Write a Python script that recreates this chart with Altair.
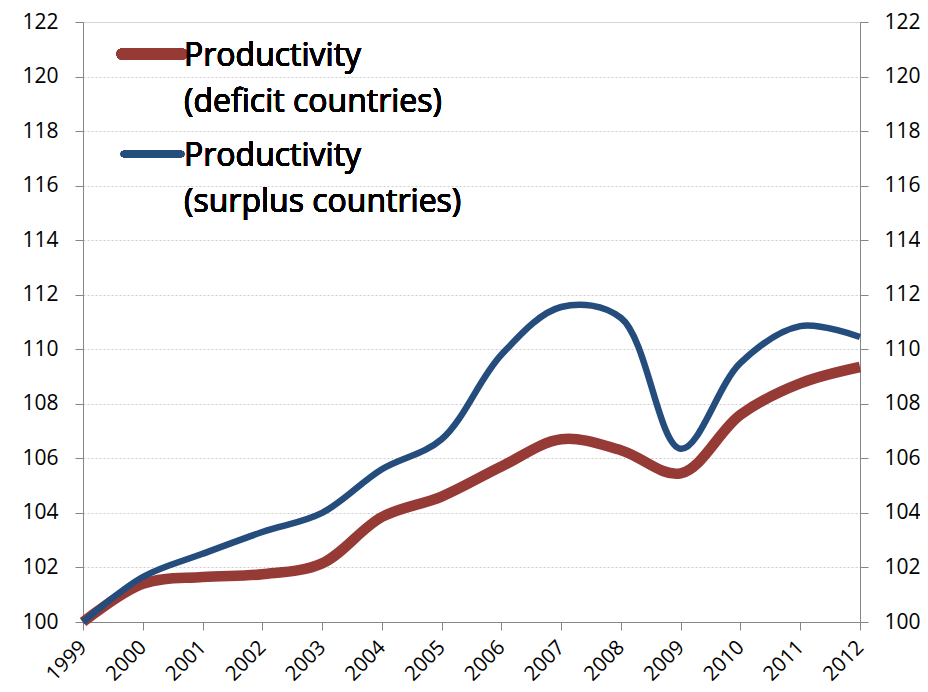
import altair as alt
import pandas as pd

years = list(range(1999, 2013))
deficit = [100.0, 101.4, 101.65, 101.75, 102.15, 103.85, 104.6, 105.7, 106.7, 106.3, 105.45, 107.6, 108.75, 109.35]
surplus = [100.0, 101.65, 102.5, 103.3, 104.0, 105.6, 106.7, 109.8, 111.55, 111.15, 106.35, 109.5, 110.85, 110.45]
series_names = ["Productivity (deficit countries)", "Productivity (surplus countries)"]
legend_lines = [["Productivity", "(deficit countries)"], ["Productivity", "(surplus countries)"]]
colors = ["#963A36", "#244C7C"]
y_ticks = list(range(100, 123, 2))

FONT = "Open Sans"
AX = "#868686"
FS = 21

df_def = pd.DataFrame({"year": years, "value": deficit, "series": series_names[0]})
df_sur = pd.DataFrame({"year": years, "value": surplus, "series": series_names[1]})

xenc = alt.X("year:Q", scale=alt.Scale(domain=[1999, 2012], nice=False, zero=False),
             axis=alt.Axis(values=years, format="d", labelAngle=-45, labelAlign="right",
                           labelBaseline="middle", labelPadding=14, tickSize=8,
                           domainColor=AX, tickColor=AX, grid=False, title=None,
                           labelFont=FONT, labelFontSize=20.5, labelColor="#000000",
                           labelOverlap=False, labelFlush=False))
yscale = alt.Scale(domain=[100, 122], nice=False, zero=False)

red = alt.Chart(df_def).mark_line(interpolate="catmull-rom", strokeWidth=10.5, color=colors[0]).encode(
    x=xenc,
    y=alt.Y("value:Q", scale=yscale,
            axis=alt.Axis(orient="left", values=y_ticks, tickSize=8, labelPadding=17,
                          domainColor=AX, tickColor=AX, grid=True, gridColor="#cccccc",
                          gridDash=[2, 2], gridWidth=1, title=None, labelFont=FONT,
                          labelFontSize=FS, labelColor="#000000", labelFlush=False)),
)
blue = alt.Chart(df_sur).mark_line(interpolate="catmull-rom", strokeWidth=6.5, color=colors[1]).encode(
    x=alt.X("year:Q", scale=alt.Scale(domain=[1999, 2012], nice=False, zero=False)),
    y=alt.Y("value:Q", scale=yscale,
            axis=alt.Axis(orient="right", values=y_ticks, tickSize=8, labelPadding=16,
                          domainColor=AX, tickColor=AX, grid=False, title=None, labelFont=FONT,
                          labelFontSize=FS, labelColor="#000000", labelFlush=False)),
)

leg_layers = []
rule_pos = [(39, 99, 32, 11), (41, 98, 132, 6.5)]
text_base = [(44, 89.5), (144, 189.5)]
for i in range(2):
    x1, x2, yy, sw = rule_pos[i]
    leg_layers.append(
        alt.Chart(df_def).mark_rule(strokeWidth=sw, strokeCap="round", color=colors[i]).encode(
            x=alt.value(x1), x2=alt.value(x2), y=alt.value(yy))
    )
    for j in range(2):
        leg_layers.append(
            alt.Chart(df_def).mark_text(align="left", baseline="alphabetic", font=FONT,
                                        fontSize=32, fontWeight="normal", color="#000000").encode(
                x=alt.value(101), y=alt.value(text_base[i][j]), text=alt.value(legend_lines[i][j]))
        )

chart = alt.layer(red, blue, *leg_layers).resolve_axis(y="independent").properties(
    width=777, height=600,
    autosize=alt.AutoSizeParams(type="none"),
    padding={"left": 75, "top": 14, "right": 60, "bottom": 68},
).configure_view(stroke=None).configure(background="#ffffff")

chart.save("out.html", embed_options={"renderer": "svg", "actions": False})
